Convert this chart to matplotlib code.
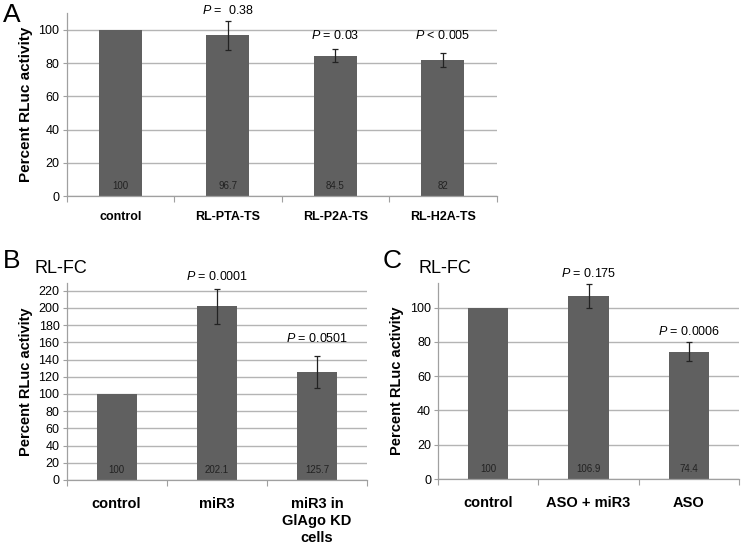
import matplotlib.pyplot as plt
import numpy as np

plt.rcParams['font.family'] = ['Liberation Sans', 'DejaVu Sans']
plt.rcParams['mathtext.fontset'] = 'custom'
plt.rcParams['mathtext.it'] = 'Liberation Sans:italic'
plt.rcParams['mathtext.rm'] = 'Liberation Sans'

# panel A
a_labels = ['control', 'RL-PTA-TS', 'RL-P2A-TS', 'RL-H2A-TS']
a_values = [100, 96.7, 84.5, 82]
a_errors = [0, 8.5, 4.0, 4.4]
a_pvals = ['', '$\\it{P}$ =  0.38', '$\\it{P}$ = 0.03', '$\\it{P}$ < 0.005']

# panel B
b_labels = ['control', 'miR3', 'miR3 in\nGlAgo KD\ncells']
b_values = [100, 202.1, 125.7]
b_errors = [0, 20.3, 18.5]
b_pvals = ['', '$\\it{P}$ = 0.0001', '$\\it{P}$ = 0.0501']

# panel C
c_labels = ['control', 'ASO + miR3', 'ASO']
c_values = [100, 106.9, 74.4]
c_errors = [0, 7.0, 5.3]
c_pvals = ['', '$\\it{P}$ = 0.175', '$\\it{P}$ = 0.0006']

BAR = '#606060'
GRID = '#b4b4b4'
W, H = 743, 546


def px_axes(fig, left, top, right, bottom):
    return fig.add_axes([left / W, 1 - bottom / H, (right - left) / W, (bottom - top) / H])


def draw_panel(ax, labels, values, errors, pvals, p_y, ymax, yticks,
               tick_fs, xlab_fs, ylab_fs, xpad):
    x = np.arange(len(values))
    ax.bar(x, values, width=0.4, color=BAR, zorder=2)
    for xi, v, e in zip(x, values, errors):
        if e > 0:
            ax.errorbar(xi, v, yerr=e, color='#222222', lw=0.9, capsize=2.5,
                        capthick=0.9, zorder=3)
        ax.annotate(f'{v:g}', (xi, 0), xytext=(0, 7), textcoords='offset points',
                    ha='center', va='center', fontsize=7, color='#222222', zorder=4)
    for xi, t, yy in zip(x, pvals, p_y):
        if t:
            ax.text(xi, yy, t, ha='center', va='baseline', fontsize=9, clip_on=False)
    ax.set_xlim(-0.5, len(values) - 0.5)
    ax.set_ylim(0, ymax)
    ax.set_yticks(yticks)
    ax.yaxis.grid(True, color=GRID, lw=1, zorder=0)
    ax.set_axisbelow(True)
    ax.set_xticks(x)
    ax.set_xticklabels(labels, fontweight='bold', fontsize=xlab_fs, va='top',
                       linespacing=1.3)
    ax.set_xticks(np.arange(len(values) + 1) - 0.5, minor=True)
    ax.tick_params(axis='x', which='major', length=0, pad=xpad)
    ax.tick_params(axis='x', which='minor', length=4, color='#a0a0a0', width=0.8)
    ax.tick_params(axis='y', length=3, color='#a0a0a0', width=0.8,
                   labelsize=tick_fs, pad=2)
    for s in ['top', 'right']:
        ax.spines[s].set_visible(False)
    for s in ['left', 'bottom']:
        ax.spines[s].set_color('#a0a0a0')
        ax.spines[s].set_linewidth(0.9)
    ax.set_ylabel('Percent RLuc activity', fontweight='bold', fontsize=ylab_fs,
                  labelpad=4)


fig = plt.figure(figsize=(7.43, 5.46), dpi=100)

ax_a = px_axes(fig, 66.5, 13, 496.5, 196)
draw_panel(ax_a, a_labels, a_values, a_errors, a_pvals, [0, 109.6, 94.4, 94.4],
           110.2, range(0, 101, 20), 9, 9, 11, 11)

ax_b = px_axes(fig, 66.5, 283, 367, 480)
draw_panel(ax_b, b_labels, b_values, b_errors, b_pvals, [0, 232, 160.7],
           229, range(0, 221, 20), 9, 10.5, 10.5, 12)

ax_c = px_axes(fig, 438, 283, 739, 479)
draw_panel(ax_c, c_labels, c_values, c_errors, c_pvals, [0, 118, 84],
           114.4, range(0, 101, 20), 9, 10.5, 10.5, 12)

fig.text(3 / W, 1 - 22 / H, 'A', fontsize=19, va='baseline')
fig.text(3 / W, 1 - 268 / H, 'B', fontsize=19, va='baseline')
fig.text(35 / W, 1 - 273 / H, 'RL-FC', fontsize=13, va='baseline')
fig.text(383 / W, 1 - 268 / H, 'C', fontsize=19, va='baseline')
fig.text(419 / W, 1 - 273 / H, 'RL-FC', fontsize=13, va='baseline')

fig.savefig('out.png', dpi=100)
